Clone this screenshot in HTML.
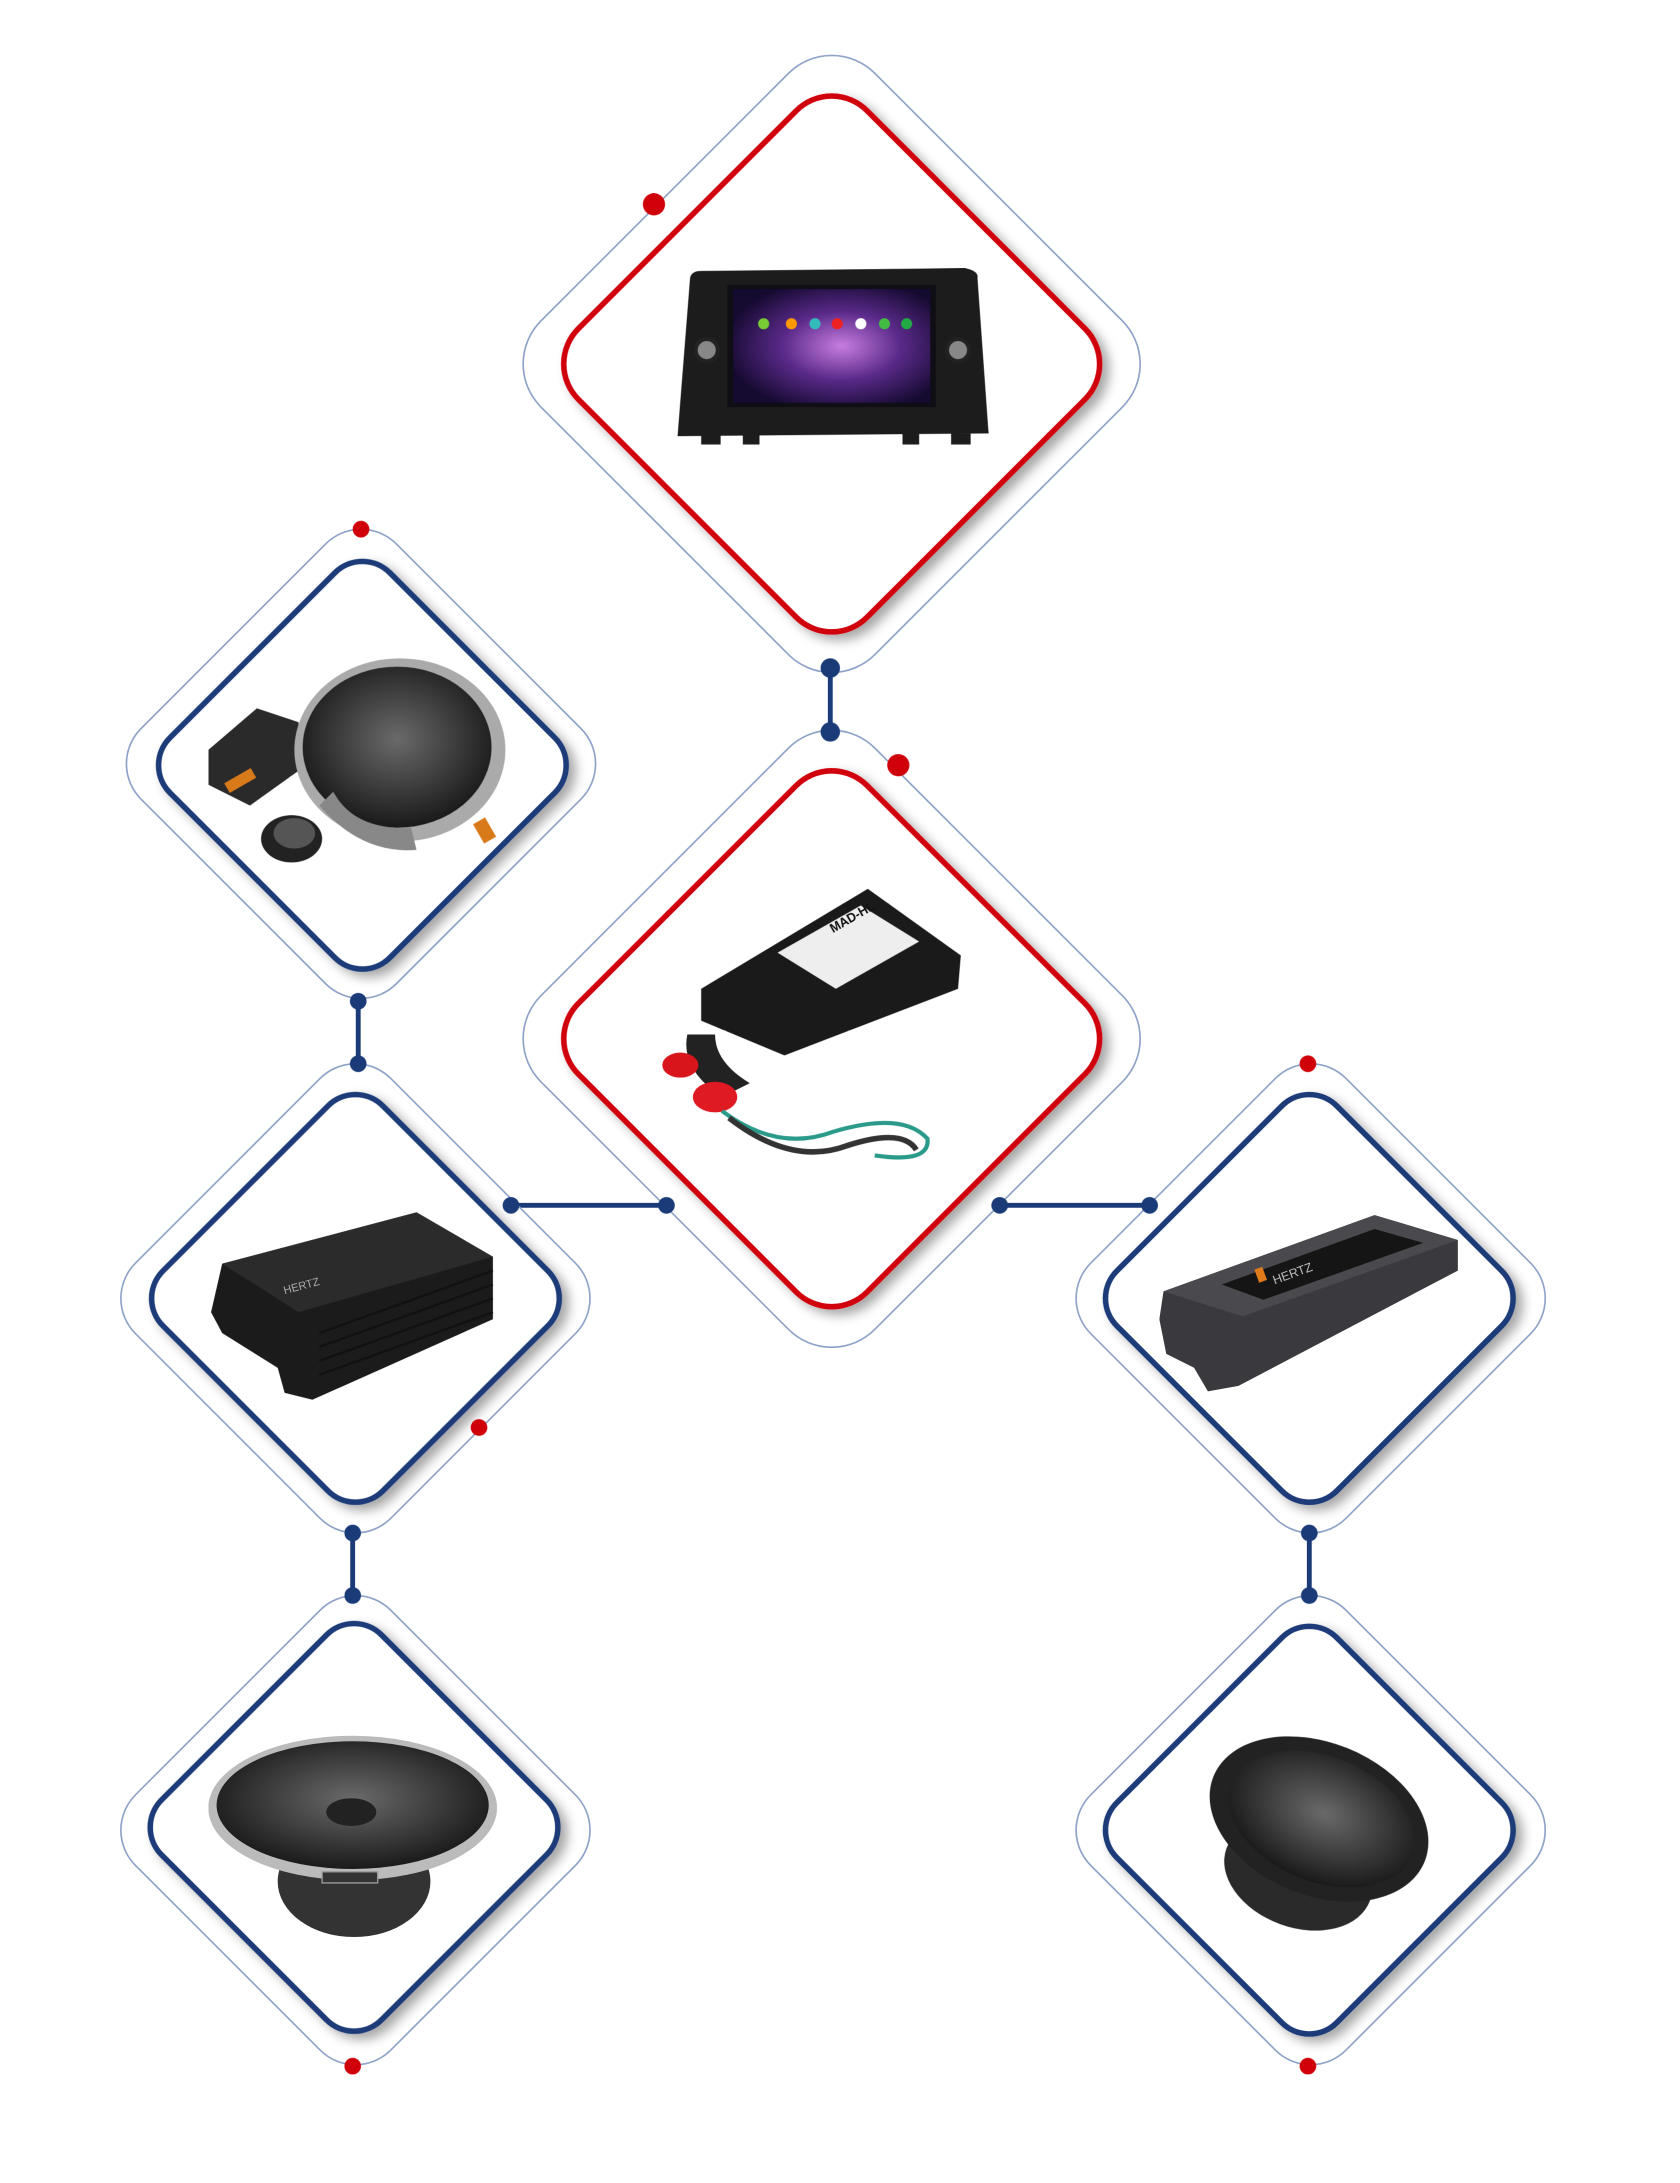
<!DOCTYPE html>
<html><head><meta charset="utf-8"><style>
html,body{margin:0;padding:0;background:#fff;}
svg{display:block;}
</style></head><body>
<svg width="1680" height="2183" viewBox="0 0 1210 1572" xmlns="http://www.w3.org/2000/svg">
<defs>
<filter id="sh" x="-20%" y="-20%" width="140%" height="140%">
<feDropShadow dx="5" dy="4" stdDeviation="4" flood-color="#000" flood-opacity="0.35"/>
</filter>
<radialGradient id="spk" cx="50%" cy="45%" r="55%">
<stop offset="0" stop-color="#6a6a6a"/><stop offset="0.6" stop-color="#3a3a3a"/><stop offset="1" stop-color="#1a1a1a"/>
</radialGradient>
<radialGradient id="sky" cx="55%" cy="50%" r="60%">
<stop offset="0" stop-color="#c77de0"/><stop offset="0.5" stop-color="#5a2a8a"/><stop offset="1" stop-color="#150a30"/>
</radialGradient>
</defs>

<g stroke="#1a3a78" stroke-width="3.5">
<line x1="598" y1="481" x2="598" y2="527"/>
<line x1="258" y1="721" x2="258" y2="766"/>
<line x1="254" y1="1104" x2="254" y2="1149"/>
<line x1="943" y1="1104" x2="943" y2="1149"/>
<line x1="368" y1="868" x2="480" y2="868"/>
<line x1="720" y1="868" x2="828" y2="868"/>
</g>

<g fill="none" stroke="#8fa3c8" stroke-width="1.2">
<rect x="-170" y="-170" width="340" height="340" rx="44" transform="translate(599,262) rotate(45)"/>
<rect x="-170" y="-170" width="340" height="340" rx="44" transform="translate(599,748) rotate(45)"/>
<rect x="-130" y="-130" width="260" height="260" rx="36" transform="translate(260,550) rotate(45)"/>
<rect x="-130" y="-130" width="260" height="260" rx="36" transform="translate(256,935) rotate(45)"/>
<rect x="-130" y="-130" width="260" height="260" rx="36" transform="translate(256,1318) rotate(45)"/>
<rect x="-130" y="-130" width="260" height="260" rx="36" transform="translate(944,935) rotate(45)"/>
<rect x="-130" y="-130" width="260" height="260" rx="36" transform="translate(944,1318) rotate(45)"/>
</g>

<g fill="#fff" stroke-width="4" filter="url(#sh)">
<rect x="-147" y="-147" width="294" height="294" rx="36" stroke="#d0000a" transform="translate(599,262) rotate(45)"/>
<rect x="-147" y="-147" width="294" height="294" rx="36" stroke="#d0000a" transform="translate(599,748) rotate(45)"/>
<rect x="-112" y="-112" width="224" height="224" rx="28" stroke="#1a3a78" transform="translate(261,551) rotate(45)"/>
<rect x="-112" y="-112" width="224" height="224" rx="28" stroke="#1a3a78" transform="translate(256,935) rotate(45)"/>
<rect x="-112" y="-112" width="224" height="224" rx="28" stroke="#1a3a78" transform="translate(255,1316) rotate(45)"/>
<rect x="-112" y="-112" width="224" height="224" rx="28" stroke="#1a3a78" transform="translate(943,935) rotate(45)"/>
<rect x="-112" y="-112" width="224" height="224" rx="28" stroke="#1a3a78" transform="translate(943,1318) rotate(45)"/>
</g>

<path d="M505 195 L695 193 Q705 195 704 200 L712 312 L488 314 L497 200 Q498 195 505 195 Z" fill="#1c1c1c"/>
<rect x="524" y="205" width="150" height="88" fill="#0e0e14"/>
<rect x="528" y="208" width="142" height="82" fill="url(#sky)"/>
<circle cx="509" cy="252" r="8" fill="#888" stroke="#222" stroke-width="3"/>
<circle cx="690" cy="252" r="8" fill="#888" stroke="#222" stroke-width="3"/>
<g><circle cx="550" cy="233" r="4" fill="#7c3"/><circle cx="570" cy="233" r="4" fill="#f90"/><circle cx="587" cy="233" r="4" fill="#3bb"/><circle cx="603" cy="233" r="4" fill="#e22"/><circle cx="620" cy="233" r="4" fill="#fff"/><circle cx="637" cy="233" r="4" fill="#4b4"/><circle cx="653" cy="233" r="4" fill="#2a4"/></g>
<rect x="505" y="312" width="14" height="8" fill="#1c1c1c"/><rect x="535" y="312" width="12" height="8" fill="#1c1c1c"/><rect x="650" y="312" width="12" height="8" fill="#1c1c1c"/><rect x="685" y="312" width="14" height="8" fill="#1c1c1c"/>

<path d="M150 540 L185 510 L215 520 L215 555 L180 580 L150 565 Z" fill="#2a2a2a"/>
<rect x="162" y="558" width="22" height="8" fill="#d97a1a" transform="rotate(-30 173 562)"/>
<ellipse cx="288" cy="540" rx="76" ry="66" fill="#aaa"/>
<ellipse cx="286" cy="538" rx="68" ry="58" fill="url(#spk)"/>
<path d="M230 580 Q260 615 300 612 L296 596 Q255 598 240 570 Z" fill="#888"/>
<rect x="344" y="590" width="10" height="16" fill="#d97a1a" transform="rotate(-30 349 598)"/>
<ellipse cx="210" cy="604" rx="22" ry="17" fill="#222"/>
<ellipse cx="212" cy="600" rx="15" ry="11" fill="#555"/>

<path d="M505 712 L625 640 L692 688 L690 712 L565 760 L505 735 Z" fill="#1a1a1a"/>
<path d="M560 686 L620 652 L662 678 L602 712 Z" fill="#eee"/>
<text x="600" y="672" font-family="Liberation Sans, sans-serif" font-size="9" font-weight="bold" fill="#111" transform="rotate(-30 600 672)">MAD-HL</text>
<path d="M495 745 Q490 770 520 790 L540 780 Q515 765 515 745 Z" fill="#222"/>
<ellipse cx="490" cy="767" rx="13" ry="9" fill="#d8151b"/>
<ellipse cx="515" cy="790" rx="16" ry="11" fill="#e01a22"/>
<path d="M520 800 Q560 830 600 815 Q650 800 668 820 Q670 838 630 832" fill="none" stroke="#2a9a8a" stroke-width="3"/>
<path d="M525 805 Q570 840 610 825 Q650 812 660 828" fill="none" stroke="#333" stroke-width="4"/>

<path d="M160 910 L300 873 L355 905 L355 950 L225 1008 L205 1003 L200 985 L160 960 L152 945 Z" fill="#1b1b1b"/>
<path d="M160 910 L300 873 L355 905 L215 945 Z" fill="#2b2b2b"/>
<g stroke="#111" stroke-width="1.5"><line x1="230" y1="960" x2="355" y2="915"/><line x1="230" y1="970" x2="355" y2="925"/><line x1="230" y1="980" x2="355" y2="935"/><line x1="230" y1="990" x2="355" y2="945"/></g>
<text x="205" y="932" font-family="Liberation Sans, sans-serif" font-size="8" fill="#aaa" transform="rotate(-15 205 932)">HERTZ</text>

<path d="M838 930 L990 875 L1050 893 L1050 915 L892 998 L870 1002 L860 985 L840 975 L835 950 Z" fill="#3a3a3e"/>
<path d="M838 930 L990 875 L1050 893 L895 948 Z" fill="#4a4a4e"/>
<path d="M880 925 L990 885 L1025 895 L910 936 Z" fill="#151515"/>
<rect x="905" y="913" width="6" height="10" fill="#e07a1a" transform="rotate(-20 908 918)"/>
<text x="918" y="925" font-family="Liberation Sans, sans-serif" font-size="9" fill="#bbb" transform="rotate(-20 918 925)">HERTZ</text>

<ellipse cx="255" cy="1355" rx="55" ry="40" fill="#333"/>
<ellipse cx="254" cy="1302" rx="104" ry="52" fill="#bbb"/>
<ellipse cx="254" cy="1300" rx="98" ry="46" fill="url(#spk)"/>
<ellipse cx="253" cy="1305" rx="18" ry="10" fill="#222"/>
<rect x="232" y="1348" width="40" height="8" fill="#333" stroke="#999"/>

<ellipse cx="935" cy="1350" rx="55" ry="38" fill="#2a2a2a" transform="rotate(20 935 1350)"/>
<ellipse cx="950" cy="1310" rx="82" ry="55" fill="#222" transform="rotate(22 950 1310)"/>
<ellipse cx="952" cy="1310" rx="70" ry="45" fill="url(#spk)" transform="rotate(22 952 1310)"/>

<g fill="#1a3a78">
<circle cx="598" cy="481" r="7"/><circle cx="598" cy="527" r="7"/>
<circle cx="258" cy="721" r="6"/><circle cx="258" cy="766" r="6"/>
<circle cx="254" cy="1104" r="6"/><circle cx="254" cy="1149" r="6"/>
<circle cx="943" cy="1104" r="6"/><circle cx="943" cy="1149" r="6"/>
<circle cx="368" cy="868" r="6"/><circle cx="480" cy="868" r="6"/>
<circle cx="720" cy="868" r="6"/><circle cx="828" cy="868" r="6"/>
</g>
<g fill="#d0000a">
<circle cx="471" cy="147" r="8"/><circle cx="647" cy="551" r="8"/>
<circle cx="260" cy="381" r="6"/><circle cx="345" cy="1028" r="6"/>
<circle cx="254" cy="1488" r="6"/><circle cx="942" cy="766" r="6"/>
<circle cx="942" cy="1488" r="6"/>
</g>
</svg>
</body></html>
